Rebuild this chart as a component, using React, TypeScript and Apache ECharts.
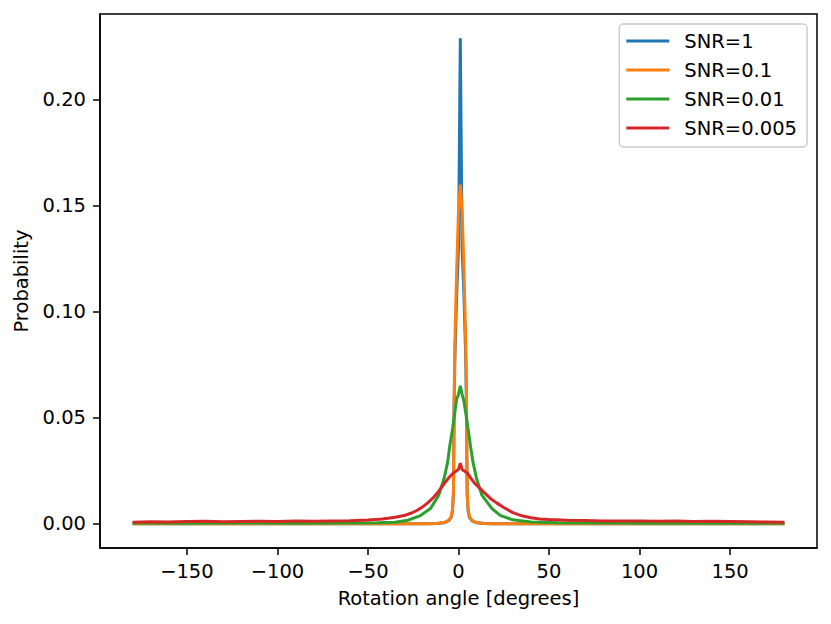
import React, { useEffect, useRef } from "react";
import * as echarts from "echarts";

const seriesNames = ["SNR=1", "SNR=0.1", "SNR=0.01", "SNR=0.005"];
const seriesColors = ["#1f77b4", "#ff7f0e", "#2ca02c", "#d62728"];
const xTicks = [-150, -100, -50, 0, 50, 100, 150];
const yTicks = [0, 0.05, 0.1, 0.15, 0.2];

// narrow peaks (SNR=1 and SNR=0.1)
const narrowAngles = [-180, -17, -12, -8, -5.5, -4, -3.3, -2.8, -2.6, -2.4, -2, -1, 0, 1, 2, 3, 4, 4.4, 4.6, 4.8, 5.3, 6, 7.5, 10, 14, 19, 180];
const snr1Prob = [0, 0, 0.0001, 0.0004, 0.0013, 0.003, 0.006, 0.014, 0.033, 0.056, 0.078, 0.108, 0.13, 0.229, 0.13, 0.108, 0.078, 0.056, 0.033, 0.014, 0.006, 0.003, 0.0013, 0.0004, 0.0001, 0, 0];
const snr01Prob = [0, 0, 0.0001, 0.0005, 0.0015, 0.0035, 0.007, 0.015, 0.035, 0.06, 0.085, 0.12, 0.148, 0.16, 0.148, 0.12, 0.085, 0.06, 0.035, 0.015, 0.007, 0.0035, 0.0015, 0.0005, 0.0001, 0, 0];

// SNR=0.01
const snr001Angles = [-180, -150, -120, -90, -60, -45, -35, -28, -21, -15.5, -11, -8, -6, -4.8, -3.3, -2, -1, 0, 1, 2, 3, 4, 5.3, 6.6, 8, 10, 13, 18.5, 23, 30, 40, 55, 80, 110, 140, 180];
const snr001Prob = [0.0003, 0.0002, 0.0003, 0.0002, 0.0003, 0.0004, 0.0007, 0.0016, 0.0038, 0.0071, 0.0133, 0.0212, 0.029, 0.0368, 0.0447, 0.0526, 0.0588, 0.061, 0.065, 0.061, 0.0578, 0.0522, 0.0447, 0.0368, 0.029, 0.0212, 0.0133, 0.0071, 0.0039, 0.0018, 0.0008, 0.0004, 0.0003, 0.0002, 0.0003, 0.0002];

// SNR=0.005
const snr0005Angles = [-180, -170, -160, -150, -140, -130, -120, -110, -100, -90, -80, -70, -60, -50, -42, -35, -30, -26, -23, -20, -17, -14, -11, -8, -5, -3, -1, 0, 1, 2, 3, 5, 7, 9, 12, 15, 18, 21, 25, 30, 35, 40, 45, 50, 60, 70, 80, 90, 100, 110, 120, 130, 140, 150, 160, 170, 180];
const snr0005Prob = [0.0007, 0.0009, 0.0008, 0.001, 0.0011, 0.0009, 0.001, 0.0011, 0.001, 0.0012, 0.0011, 0.0013, 0.0014, 0.0017, 0.0022, 0.003, 0.0038, 0.005, 0.0062, 0.0078, 0.0098, 0.0122, 0.0152, 0.0188, 0.022, 0.0238, 0.025, 0.0256, 0.0285, 0.0255, 0.025, 0.0237, 0.0212, 0.019, 0.0165, 0.014, 0.0116, 0.0098, 0.0076, 0.0052, 0.0037, 0.0028, 0.0022, 0.0019, 0.0016, 0.0015, 0.0013, 0.0013, 0.0012, 0.0011, 0.0012, 0.001, 0.0011, 0.001, 0.0009, 0.0008, 0.0006];

const seriesAngles = [narrowAngles, narrowAngles, snr001Angles, snr0005Angles];
const seriesProbs = [snr1Prob, snr01Prob, snr001Prob, snr0005Prob];

const FONT = "DejaVu Sans";
const FS = 19.5;

export default function App() {
  const ref = useRef<HTMLDivElement>(null);
  useEffect(() => {
    if (!ref.current) return;
    const chart = echarts.init(ref.current, null, { renderer: "svg" });
    const axisLineStyle = { color: "#000", width: 1.5 };
    chart.setOption({
      animation: false,
      backgroundColor: "#ffffff",
      textStyle: { fontFamily: FONT },
      grid: {
        left: 100,
        top: 14,
        width: 717,
        height: 534,
        show: true,
        borderColor: "#000",
        borderWidth: 1.5,
        backgroundColor: "transparent",
      },
      xAxis: {
        type: "value",
        min: -198,
        max: 198,
        name: "Rotation angle [degrees]",
        nameLocation: "middle",
        nameGap: 40,
        nameTextStyle: { fontFamily: FONT, fontSize: FS, color: "#000" },
        axisLine: { show: true, onZero: false, lineStyle: axisLineStyle },
        axisTick: { show: true, customValues: xTicks, length: 7, lineStyle: axisLineStyle },
        axisLabel: {
          customValues: xTicks,
          formatter: (v: number) => (v < 0 ? "\u2212" + Math.abs(v) : String(v)),
          color: "#000",
          fontFamily: FONT,
          fontSize: FS,
          margin: 13,
        },
        splitLine: { show: false },
      },
      yAxis: {
        type: "value",
        min: -0.0115,
        max: 0.2405,
        name: "Probability",
        nameLocation: "middle",
        nameGap: 65,
        nameRotate: 90,
        nameTextStyle: { fontFamily: FONT, fontSize: FS, color: "#000" },
        axisLine: { show: true, onZero: false, lineStyle: axisLineStyle },
        axisTick: { show: true, customValues: yTicks, length: 7, lineStyle: axisLineStyle },
        axisLabel: {
          customValues: yTicks,
          formatter: (v: number) => v.toFixed(2),
          color: "#000",
          fontFamily: FONT,
          fontSize: FS,
          margin: 14,
        },
        splitLine: { show: false },
      },
      legend: {
        orient: "vertical",
        right: 24,
        top: 24,
        align: "left",
        icon: "rect",
        itemWidth: 43,
        itemHeight: 3,
        itemGap: 9,
        padding: [7, 10, 9, 7],
        borderColor: "#cccccc",
        borderWidth: 1.5,
        borderRadius: 4,
        backgroundColor: "rgba(255,255,255,0.8)",
        textStyle: {
          fontFamily: FONT,
          fontSize: FS,
          color: "#000",
          lineHeight: 20,
          padding: [0, 0, 0, 10],
        },
        data: seriesNames,
      },
      series: seriesNames.map((name, i) => ({
        name,
        type: "line",
        data: seriesAngles[i].map((x, j) => [x, seriesProbs[i][j]]),
        showSymbol: false,
        symbol: "none",
        color: seriesColors[i],
        lineStyle: { color: seriesColors[i], width: 3 },
        emphasis: { disabled: true },
        clip: true,
      })),
    });
    return () => chart.dispose();
  }, []);
  return (
    <div
      ref={ref}
      style={{ position: "fixed", left: 0, top: 0, width: 831, height: 624, background: "#fff" }}
    />
  );
}
